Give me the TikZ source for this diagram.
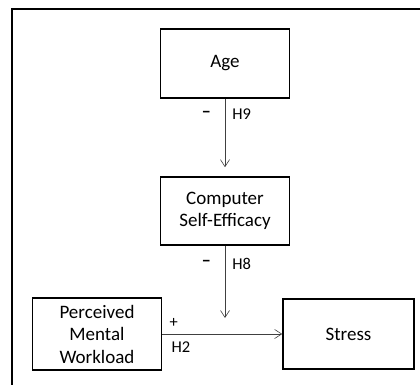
\documentclass[tikz,border=0pt]{standalone}
\usepackage{fontspec}
\setmainfont{Carlito}
\usetikzlibrary{arrows.meta}

\begin{document}
\begin{tikzpicture}[x=1pt, y=-1pt,
    box/.style={draw, line width=1.6pt, align=center, inner sep=0pt,
      minimum width=129pt, minimum height=69pt,
      font=\fontsize{19}{22.5}\selectfont},
    link/.style={-{Straight Barb[length=7pt,width=9pt]}, line width=0.6pt, draw=black!75},
    lbl/.style={inner sep=0pt, font=\fontsize{16.5}{18}\selectfont},
    negsign/.style={inner sep=0pt, font=\fontsize{17}{18}\bfseries}]
    \useasboundingbox (0,0) rectangle (420,385);
    \clip (0,0) rectangle (420,385);
    % outer frame, runs off to the right and bottom
    \draw[line width=1.6pt] (12,400) -- (12,9) -- (440,9);

    \node[box] (age) at (225,63.5) {Age};
    \node[box, minimum height=68pt] (cse) at (225,211) {Computer\\Self-Efficacy};
    \node[box, minimum height=72pt] (pmw) at (97,334) {Perceived\\Mental\\Workload};
    \node[box, minimum width=131pt, minimum height=70pt] (stress) at (348.5,334) {Stress};
    \coordinate (mod) at (225,318);

    \draw[link, shorten >=9pt] (age) -- (cse)
      node[negsign, pos=0.2, anchor=east, xshift=-14pt] (neg9) {−}
      node[lbl, pos=0.2, anchor=west, xshift=7pt] {H9};
    \draw[link] (cse) -- (mod)
      node[negsign, pos=0.25, anchor=east, xshift=-14pt] (neg8) {−}
      node[lbl, pos=0.25, anchor=west, xshift=7pt] {H8};
    \draw[link] (pmw) -- (stress)
      node[lbl, pos=0, anchor=south west, xshift=7pt, yshift=6pt] {+}
      node[lbl, pos=0, anchor=north west, xshift=9pt, yshift=-7pt] {H2};
\end{tikzpicture}
\end{document}
